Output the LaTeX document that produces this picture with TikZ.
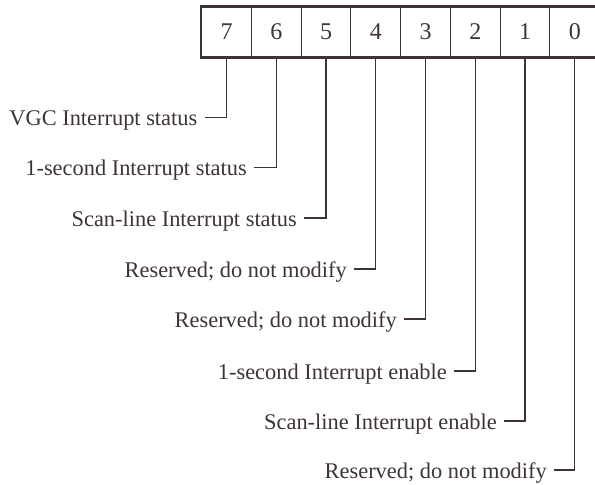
\documentclass[tikz,border=0pt]{standalone}
\usepackage{fontspec}
\setmainfont{Liberation Serif}
\definecolor{ink}{RGB}{62,52,52}
\begin{document}
\begin{tikzpicture}[x=1pt,y=-1pt,
  cell/.style={draw=ink,line width=1pt,minimum width=49.75pt,minimum height=50pt,inner sep=0pt,
    text=ink,font=\fontsize{24}{27}\selectfont},
  lbl/.style={anchor=base east,text=ink,inner sep=0pt,xshift=-7pt,yshift=-8pt,
    font=\fontsize{22.4}{26}\selectfont},
  leader/.style={draw=ink,line width=1.3pt}]
\useasboundingbox (0,0) rectangle (595,485);
\foreach \b [count=\i from 0] in {7,6,5,4,3,2,1,0}
  \node[cell] (c\b) at (226.5+\i*49.75,32) {\b};
\draw[ink,line width=2.2pt] (c7.north west) rectangle (c0.south east);
% leader ends
\coordinate (d7) at (204.5,117.5);
\coordinate (d6) at (254,167.5);
\coordinate (d5) at (304,218);
\coordinate (d4) at (354,269);
\coordinate (d3) at (404,319);
\coordinate (d2) at (454,371);
\coordinate (d1) at (504,421);
\coordinate (d0) at (554,470);
\foreach \b in {7,6,5,4,3,2,1,0}
  \draw[leader] (c\b.south) |- (d\b);
\node[lbl] (l7) at (d7) {VGC Interrupt status};
\node[lbl] (l6) at (d6) {1-second Interrupt status};
\node[lbl] (l5) at (d5) {Scan-line Interrupt status};
\node[lbl] (l4) at (d4) {Reserved; do not modify};
\node[lbl] (l3) at (d3) {Reserved; do not modify};
\node[lbl] (l2) at (d2) {1-second Interrupt enable};
\node[lbl] (l1) at (d1) {Scan-line Interrupt enable};
\node[lbl] (l0) at (d0) {Reserved; do not modify};
\end{tikzpicture}
\end{document}
